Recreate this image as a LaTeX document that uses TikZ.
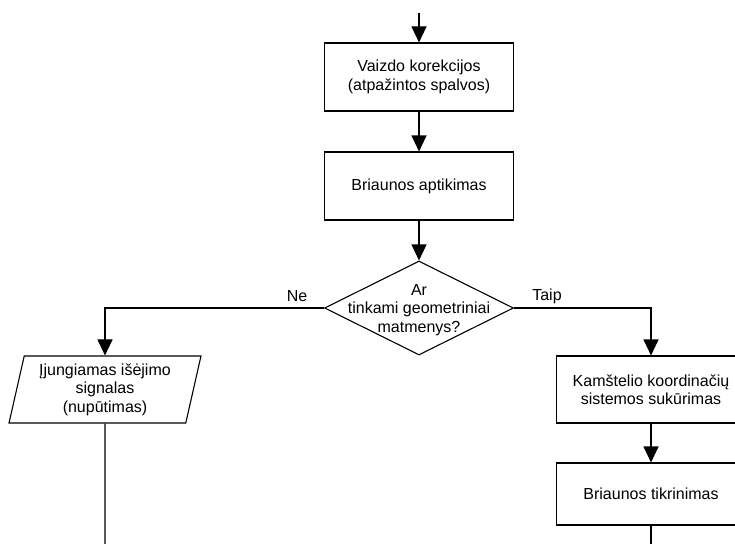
\documentclass[tikz,border=0pt]{standalone}
\usepackage{fontspec}
\setmainfont{Liberation Sans}
\usetikzlibrary{shapes.geometric,arrows.meta}
\begin{document}
\begin{tikzpicture}[x=1pt,y=-1pt,
  line width=1.1pt,
  txt/.style={font=\fontsize{16}{18.5}\selectfont, align=center},
  proc/.style={draw, txt, rectangle, inner sep=0pt, minimum width=189pt},
  dec/.style={draw, diamond, inner sep=0pt, minimum width=189pt, minimum height=94pt},
  io/.style={draw, txt, trapezium, trapezium left angle=76.6, trapezium right angle=103.4,
             trapezium stretches=true, inner sep=0pt, minimum width=192pt, minimum height=67pt},
  flow/.style={-{Triangle[length=16pt,width=15pt]}},
  lab/.style={font=\fontsize{16}{18.5}\selectfont}
]
\useasboundingbox (0,0) rectangle (735,543);

\coordinate (start) at (419,13);
\node[proc, minimum height=68pt] (b1) at (419,77) {Vaizdo korekcijos\\(atpažintos spalvos)};
\node[proc, minimum height=68pt] (b2) at (419,186) {Briaunos aptikimas};
\node[dec] (d) at (419,308) {};
\node[txt] (dt) at (419,310) {Ar\\tinkami geometriniai\\matmenys?};
\node[io] (p) at (105,389.5) {Įjungiamas išėjimo\\signalas\\(nupūtimas)};
\node[proc, minimum height=67pt] (b3) at (651,389.5) {Kamštelio koordinačių\\sistemos sukūrimas};
\node[proc, minimum height=62pt] (b4) at (651,494) {Briaunos tikrinimas};

\coordinate (pend) at (105,548);
\coordinate (b4end) at (651,548);

\draw[flow] (start) -- (b1.north);
\draw[flow] (b1) -- (b2);
\draw[flow] (b2) -- (d.north);
\draw[flow] (d.west) -| (p.north);
\draw[flow] (d.east) -| (b3.north);
\draw[flow] (b3) -- (b4);
\draw (p.south) -- (pend);
\draw (b4.south) -- (b4end);

\node[lab] (ne) at (297,296) {Ne};
\node[lab] (taip) at (547,296) {Taip};
\end{tikzpicture}
\end{document}
